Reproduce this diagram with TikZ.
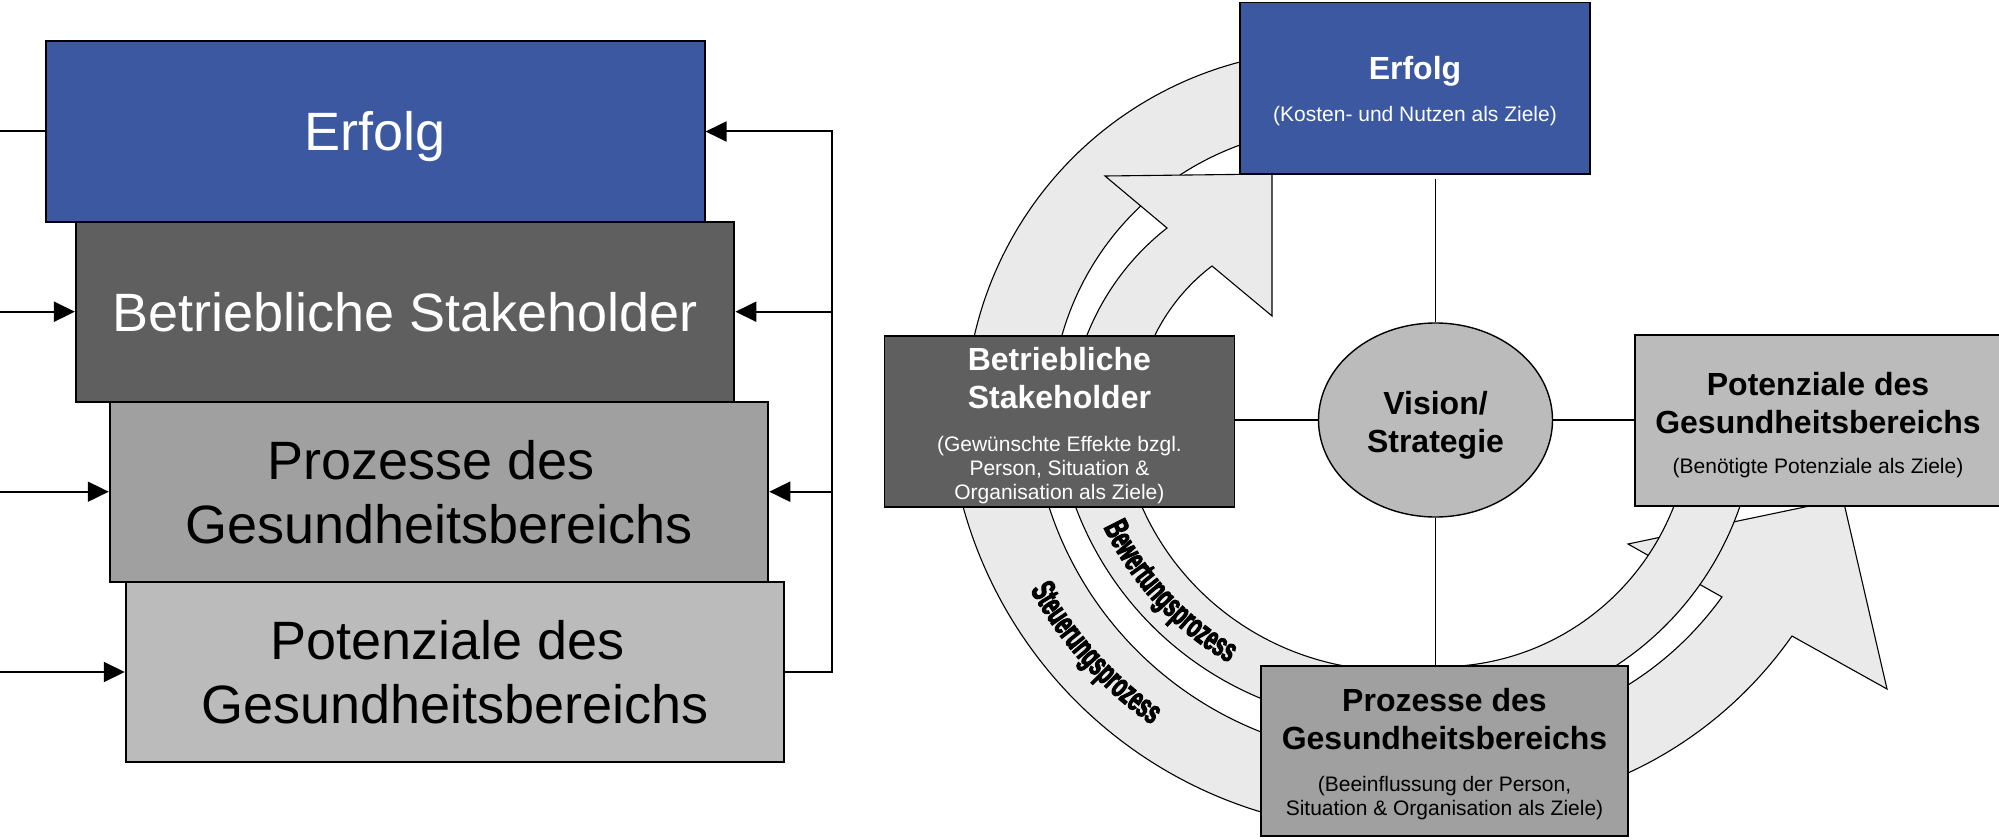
\documentclass[tikz,border=0pt]{standalone}
\usepackage{fontspec}
\setmainfont{Liberation Sans}
\newfontfamily\wordart{Liberation Sans}[FakeStretch=0.58,BoldFeatures={FakeBold=3}]
\usetikzlibrary{arrows.meta,decorations.text,shapes.geometric}

\definecolor{erfblue}{RGB}{59,88,160}
\definecolor{stkgray}{RGB}{95,95,95}
\definecolor{progray}{RGB}{160,160,160}
\definecolor{potgray}{RGB}{187,187,187}
\definecolor{bandgray}{RGB}{234,234,234}

\newcommand\subline[1]{{\fontsize{21}{24}\selectfont\mdseries #1}}

\begin{document}
\begin{tikzpicture}[x=1pt,y=-1pt,
  stack/.style={draw=black,line width=2,fill=#1,minimum width=658.5,minimum height=180.4,
    inner sep=0,align=center,font=\fontsize{54}{64}\selectfont,text height=38.66,text depth=0},
  panel/.style={draw=black,line width=1.4,fill=#1,inner sep=0,align=center,
    font=\fontsize{32}{38}\selectfont\bfseries,text depth=0},
  band/.style={draw=black,line width=1.1,fill=bandgray},
  link/.style={line width=1.4},
  feed/.style={line width=2},
  feedarrow/.style={line width=2,-{Triangle[length=21pt,width=20pt]}},
  wordpath/.style={decorate,decoration={text along path,text align=center,
    text={|\wordart\bfseries\fontsize{34}{34}\selectfont|#1}}}
]
\useasboundingbox (0,0) rectangle (1999,840);

% ---------- process bands of the cycle ----------
% upper left: outer band, running behind "Erfolg"
\filldraw[band]
  plot[domain=186:265,samples=60] ({1333+368*cos(\x)},{418+368*sin(\x)})
  -- plot[domain=265:186,samples=60] ({1333+(283.4+5*(\x-197)/54.2)*cos(\x)},{418+(283.4+5*(\x-197)/54.2)*sin(\x)})
  -- cycle;
% upper left: inner band with its head towards "Erfolg"
\filldraw[band]
  plot[domain=190:231.48,samples=50] ({1333+(196.4-2.1*(\x-205)/26.48)*cos(\x)},{418+(196.4-2.1*(\x-205)/26.48)*sin(\x)})
  -- (1272,316) -- (1272,174) -- (1105,176)
  -- plot[domain=228.86:190,samples=50] ({1333+(259.6-7.3*(\x-198.64)/30.22)*cos(\x)},{418+(259.6-7.3*(\x-198.64)/30.22)*sin(\x)})
  -- cycle;
% lower left: outer band
\filldraw[band]
  plot[domain=170:100,samples=70] ({1388+440.7*cos(\x)},{390+440.7*sin(\x)})
  -- plot[domain=100:170,samples=70] ({1388+(358.6-6.2*(\x-160.96)/50.59)*cos(\x)},{390+(358.6-6.2*(\x-160.96)/50.59)*sin(\x)})
  -- cycle;
% lower left: inner band
\filldraw[band]
  plot[domain=170:100,samples=70] ({1388+333.6*cos(\x)},{390+333.6*sin(\x)})
  -- plot[domain=93:170,samples=70] ({1388+(272.4-6.9*(\x-154.56)/54.46)*cos(\x)},{390+(272.4-6.9*(\x-154.56)/54.46)*sin(\x)})
  -- cycle;
% lower right: outer band with the large head
\filldraw[band]
  plot[domain=70:31.11,samples=50] ({1434+(402.8-15.3*(\x-61.21)/30.1)*cos(\x)},{420+(402.8-15.3*(\x-61.21)/30.1)*sin(\x)})
  -- (1887,689) -- (1843,499) -- (1628,544)
  -- plot[domain=31.57:65,samples=50] ({1434+(328.4-9.6*(\x-53.79)/22.22)*cos(\x)},{420+(328.4-9.6*(\x-53.79)/22.22)*sin(\x)})
  -- cycle;
% lower right: inner band, running behind "Potenziale"
\filldraw[band]
  plot[domain=88:12,samples=60] ({1434+(247.6-7.3*(\x-81.64)/61.93)*cos(\x)},{420+(247.6-7.3*(\x-81.64)/61.93)*sin(\x)})
  -- plot[domain=10:60,samples=60] ({1434+(305.8-12.1*(\x-53.25)/37.55)*cos(\x)},{420+(305.8-12.1*(\x-53.25)/37.55)*sin(\x)})
  -- cycle;

% band captions
\path[wordpath=Bewertungsprozess]
  plot[domain=162.25:112.25,samples=80] ({1388+316*cos(\x)},{390+316*sin(\x)});
\path[wordpath=Steuerungsprozess]
  plot[domain=163:113,samples=80] ({1388+410*cos(\x)},{390+410*sin(\x)});

% ---------- cycle: boxes around the vision ----------
\node[panel=erfblue,text=white,minimum width=350,minimum height=171.3,text height=67.4]
  (erfR) at (1415,88.3) {Erfolg\\[4pt]\subline{(Kosten- und Nutzen als Ziele)}};
\node[panel=stkgray,text=white,minimum width=349.8,minimum height=171,text height=155]
  (stkR) at (1059.4,421.5) {Betriebliche\\Stakeholder\\[5pt]\subline{(Gewünschte Effekte bzgl.}\\[-14pt]\subline{Person, Situation \&}\\[-14pt]\subline{Organisation als Ziele)}};
\node[panel=potgray,minimum width=366,minimum height=171,text height=106]
  (potR) at (1818,420.5) {Potenziale des\\Gesundheitsbereichs\\[2.5pt]\subline{(Benötigte Potenziale als Ziele)}};
\node[panel=progray,minimum width=367,minimum height=170,text height=129]
  (proR) at (1444.5,751) {Prozesse des\\Gesundheitsbereichs\\[4pt]\subline{(Beeinflussung der Person,}\\[-14pt]\subline{Situation \& Organisation als Ziele)}};
\node[panel=potgray,ellipse,minimum width=234,minimum height=194,text height=64.6]
  (vis) at (1435.5,420) {Vision/\\Strategie};

\draw[link,shorten <=4pt] (vis.north |- erfR.south) -- (vis.north);
\draw[link] (vis.south) -- (vis.south |- proR.north);
\draw[link] (stkR.east |- vis.west) -- (vis.west);
\draw[link] (vis.east) -- (vis.east -| potR.west);

% ---------- stacked levels ----------
\node[stack=erfblue,text=white] (erfL) at (375.3,131.5) {Erfolg};
\node[stack=stkgray,text=white] (stkL) at (405.15,311.7) {Betriebliche Stakeholder};
\node[stack=progray,text height=102.66] (proL) at (439,491.7) {Prozesse des\kern.28em\\Gesundheitsbereichs};
\node[stack=potgray,text height=102.66] (potL) at (455,672) {Potenziale des\kern.28em\\Gesundheitsbereichs};

% inputs entering from the left
\coordinate (lft) at (-5,0);
\draw[feed] (lft |- erfL.west) -- (erfL.west);
\draw[feedarrow] (lft |- stkL.west) -- (stkL.west);
\draw[feedarrow] (lft |- proL.west) -- (proL.west);
\draw[feedarrow] (lft |- potL.west) -- (potL.west);

% feedback loop on the right
\coordinate (fbx) at (832,0);
\draw[feedarrow] (potL.east) -- (fbx |- potL.east) -- (fbx |- erfL.east) -- (erfL.east);
\draw[feedarrow] (fbx |- stkL.east) -- (stkL.east);
\draw[feedarrow] (fbx |- proL.east) -- (proL.east);
\end{tikzpicture}
\end{document}
